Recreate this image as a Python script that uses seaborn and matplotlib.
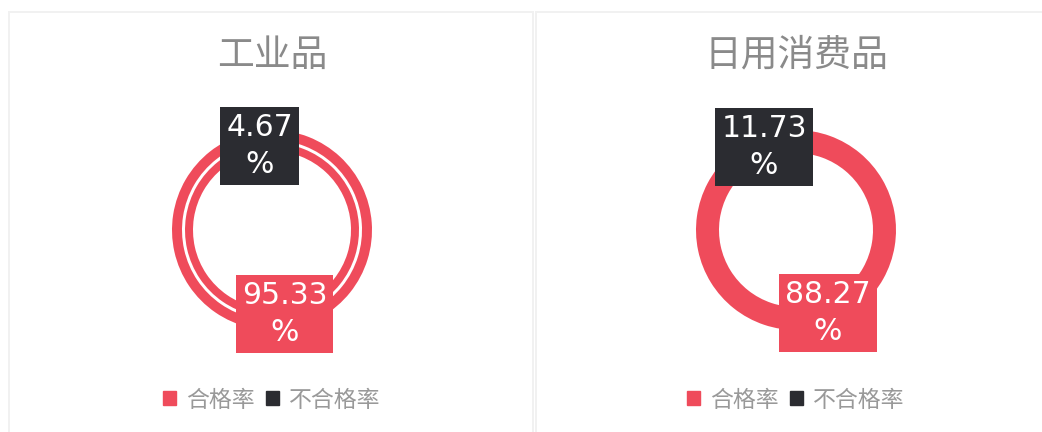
import matplotlib
matplotlib.use("Agg")
import matplotlib.pyplot as plt
import matplotlib.patches as mpatches
import numpy as np
import seaborn as sns

# ---- data ----
panel_titles = ["工业品", "日用消费品"]
categories = ["合格率", "不合格率"]
pass_rates = [95.33, 88.27]
fail_rates = [4.67, 11.73]

sns.set_theme(style="white")
plt.rcParams['font.family'] = ['Noto Sans CJK SC', 'DejaVu Sans']

colors = {"合格率": "#EF4B5B", "不合格率": "#2B2C31"}

W, H = 1042, 432
fig = plt.figure(figsize=(W / 100, H / 100), dpi=100)
ax = fig.add_axes([0, 0, 1, 1])

# cards
card_specs = [(9, 524), (536, 520)]
for x0, w in card_specs:
    ax.add_patch(mpatches.Rectangle((x0, -10), w, 432 - 12 + 10, facecolor="white",
                                    edgecolor="#f1f1f1", linewidth=1.4, zorder=0))

centers_x = [272, 796]
cy = H - 230
ring_specs = [
    [(100, 10), (87, 8)],   # double ring on the left
    [(100, 23)],
]
label_r = [85, 89]

for i, title in enumerate(panel_titles):
    cx = centers_x[i]
    vals = [fail_rates[i], pass_rates[i]]
    cols = [colors["不合格率"], colors["合格率"]]
    wedges = None
    for (r, wdt) in ring_specs[i]:
        wg, _ = ax.pie(vals, colors=cols, startangle=90, counterclock=True,
                       radius=r, center=(cx, cy), frame=True,
                       wedgeprops=dict(width=wdt, linewidth=0, edgecolor="none"))
        if wedges is None:
            wedges = wg
    # labels at middle angle of each wedge
    for wg, v in zip(wedges, vals):
        mid = np.deg2rad((wg.theta1 + wg.theta2) / 2)
        lx = cx + label_r[i] * np.cos(mid)
        ly = cy + label_r[i] * np.sin(mid)
        ax.text(lx, ly, f"{v:.2f}\n%", ha="center", va="center", color="white",
                fontsize=21.5, family=["DejaVu Sans"], linespacing=1.32, zorder=5,
                bbox=dict(boxstyle="square,pad=0.2", facecolor=wg.get_facecolor(),
                          edgecolor="none"))
    ax.text(cx, H - 55, title, ha="center", va="center", fontsize=26.5,
            color="#8a8a8a", zorder=5)
    handles = [mpatches.Patch(color=colors[c], label=c) for c in categories]
    ax.legend(handles=handles, loc="center", bbox_to_anchor=(cx, H - 400),
              bbox_transform=ax.transData, ncol=2, frameon=False, fontsize=16.5,
              handlelength=0.55, handleheight=0.55, handletextpad=0.45,
              columnspacing=0.5, labelcolor="#999999")
    if i == 0:
        leg0 = ax.get_legend()
        ax.add_artist(leg0)

ax.set_xlim(0, W)
ax.set_ylim(0, H)
ax.set_aspect("auto")
ax.axis("off")

fig.savefig("out.png", dpi=100)
